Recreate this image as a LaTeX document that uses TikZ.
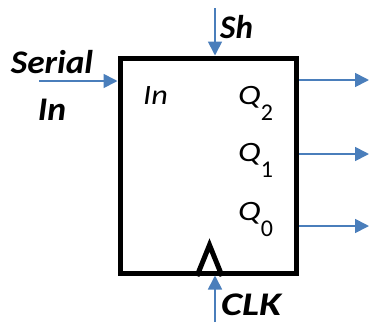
\documentclass[tikz,border=0pt]{standalone}
\usepackage{fontspec}
\setmainfont{Carlito}
\usetikzlibrary{arrows.meta}
\definecolor{wireblue}{RGB}{74,126,187}
\tikzset{
  regbox/.style={draw, line width=5pt, minimum width=176.5pt, minimum height=215pt, inner sep=0pt},
  wire/.style={wireblue, line width=1.7pt, -{Triangle[length=14pt,width=14pt]}},
  sig/.style={font=\fontsize{33}{36}\selectfont\bfseries\itshape, inner sep=0pt, anchor=base},
  port/.style={font=\fontsize{28}{30}\selectfont\itshape, inner sep=0pt, anchor=base west},
  clktri/.style={line width=5pt, line join=miter},
}
\newcommand{\widen}[2][1.2]{\scalebox{#1}[1]{#2}}
\newcommand{\qsub}[1]{\lower16pt\hbox{\fontsize{24}{26}\selectfont\upshape #1}}
\begin{document}
\begin{tikzpicture}[x=1pt, y=-1pt]
    \useasboundingbox (0,0) rectangle (369,322);
    % register block
    \node[regbox] (reg) at (208.25,165.5) {};
    \draw[clktri] (197,276) -- (209.5,245) -- (222,276);
    % inputs
    \coordinate (shin) at (215,8);
    \coordinate (serin) at (39,81);
    \coordinate (clkin) at (215,322);
    \draw[wire] (shin) -- (shin |- reg.north);
    \draw[wire] (serin) -- (serin -| reg.west);
    \draw[wire] (clkin) -- (clkin |- reg.south);
    % outputs
    \coordinate (q2out) at (369,80);
    \coordinate (q1out) at (369,154);
    \coordinate (q0out) at (369,226);
    \draw[wire] (q2out -| reg.east) -- (q2out);
    \draw[wire] (q1out -| reg.east) -- (q1out);
    \draw[wire] (q0out -| reg.east) -- (q0out);
    % labels
    \node[sig, anchor=base west] (sh) at (220,38) {Sh};
    \node[sig] (serial) at (52,73) {\widen[1.07]{Serial}};
    \node[sig] (serialin) at (52,120) {\widen[1.08]{In}};
    \node[sig, anchor=base west] (clk) at (221,315) {\widen[1.22]{CLK}};
    \node[port] (in) at (143,104) {\widen[1.15]{In}};
    \node[port] (q2) at (238,104) {\widen[1.22]{Q}\qsub{2}};
    \node[port] (q1) at (238,161) {\widen[1.22]{Q}\qsub{1}};
    \node[port] (q0) at (238,220) {\widen[1.22]{Q}\qsub{0}};
\end{tikzpicture}
\end{document}
